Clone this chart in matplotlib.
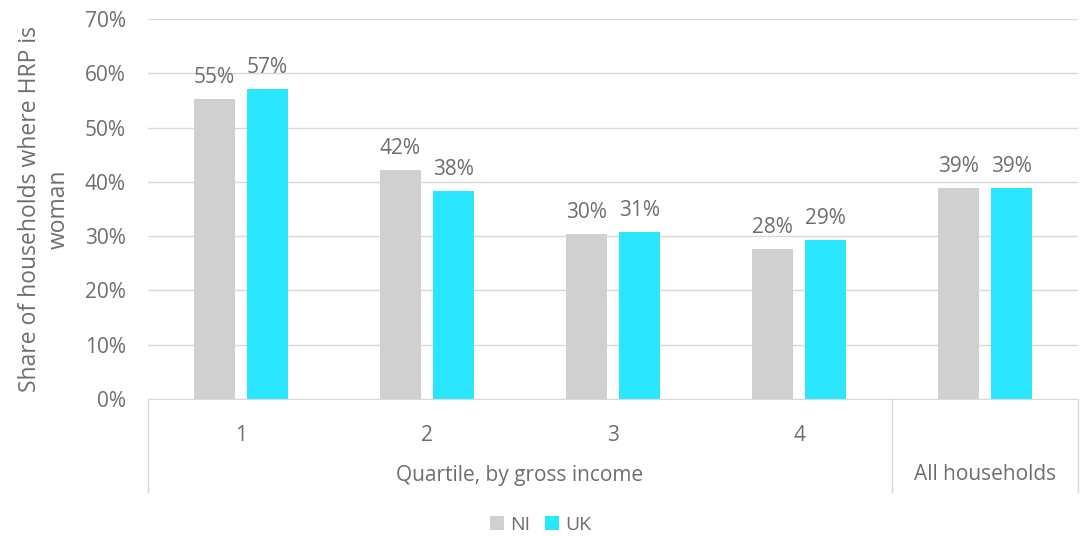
import numpy as np
import matplotlib.pyplot as plt
from matplotlib.ticker import PercentFormatter

# Share of households where the HRP is a woman, by gross income quartile
categories = ["1", "2", "3", "4", "All households"]
groups = ["Quartile, by gross income", "All households"]
ni = [55.3, 42.2, 30.4, 27.6, 38.9]
uk = [57.1, 38.4, 30.7, 29.3, 38.9]

grey = "#D0D0D0"
cyan = "#2BE6FF"
txt = "#6E6E6E"
line = "#D9D9D9"

plt.rcParams['font.family'] = ['Open Sans', 'DejaVu Sans']

fig = plt.figure(figsize=(10.81, 5.36), dpi=100)
ax = fig.add_axes([148 / 1081, 137 / 536, 930 / 1081, 380 / 536])

x = np.arange(len(categories))
w = 0.22
gap = 0.065
b1 = ax.bar(x - (w + gap) / 2, ni, w, color=grey, label="NI", zorder=3)
b2 = ax.bar(x + (w + gap) / 2, uk, w, color=cyan, label="UK", zorder=3)

for bars, vals in ((b1, ni), (b2, uk)):
    for r, v in zip(bars, vals):
        ax.text(r.get_x() + r.get_width() / 2, v + 2.0, f"{round(v):.0f}%",
                ha="center", va="bottom", fontsize=15, color=txt)

ax.set_xlim(-0.5, len(categories) - 0.5)
ax.set_ylim(0, 70)
ax.set_yticks(range(0, 71, 10))
ax.yaxis.set_major_formatter(PercentFormatter(decimals=0))
ax.grid(axis="y", color=line, linewidth=1, zorder=0)
for s in ("top", "right", "left"):
    ax.spines[s].set_visible(False)
ax.spines["bottom"].set_color(line)
ax.tick_params(axis="y", length=0, labelsize=15, labelcolor=txt, pad=16)
ax.tick_params(axis="x", length=0)
ax.set_xticks([])

ax.set_ylabel("Share of households where HRP is\nwoman", fontsize=16.5,
              color=txt, labelpad=10, linespacing=1.25)

# two-level category axis below the plot
tr = ax.get_xaxis_transform()
for i, c in enumerate(categories[:4]):
    ax.text(i, -0.095, c, transform=tr, ha="center", va="center",
            fontsize=15, color=txt)
ax.text(1.5, -0.2, groups[0], transform=tr, ha="center", va="center",
        fontsize=15, color=txt)
ax.text(4, -0.2, groups[1], transform=tr, ha="center", va="center",
        fontsize=15, color=txt)
for xs in (-0.5, 3.5, 4.5):
    ax.plot([xs, xs], [0, -0.245], transform=tr, color=line, lw=1,
            clip_on=False)

fig.legend(handles=[b1, b2], labels=["NI", "UK"], loc="center",
           bbox_to_anchor=(0.5, 11 / 536), ncol=2, frameon=False,
           fontsize=14, handlelength=0.7, handleheight=0.7,
           handletextpad=0.3, columnspacing=0.8, labelcolor=txt)

fig.savefig("out.png", dpi=100)
